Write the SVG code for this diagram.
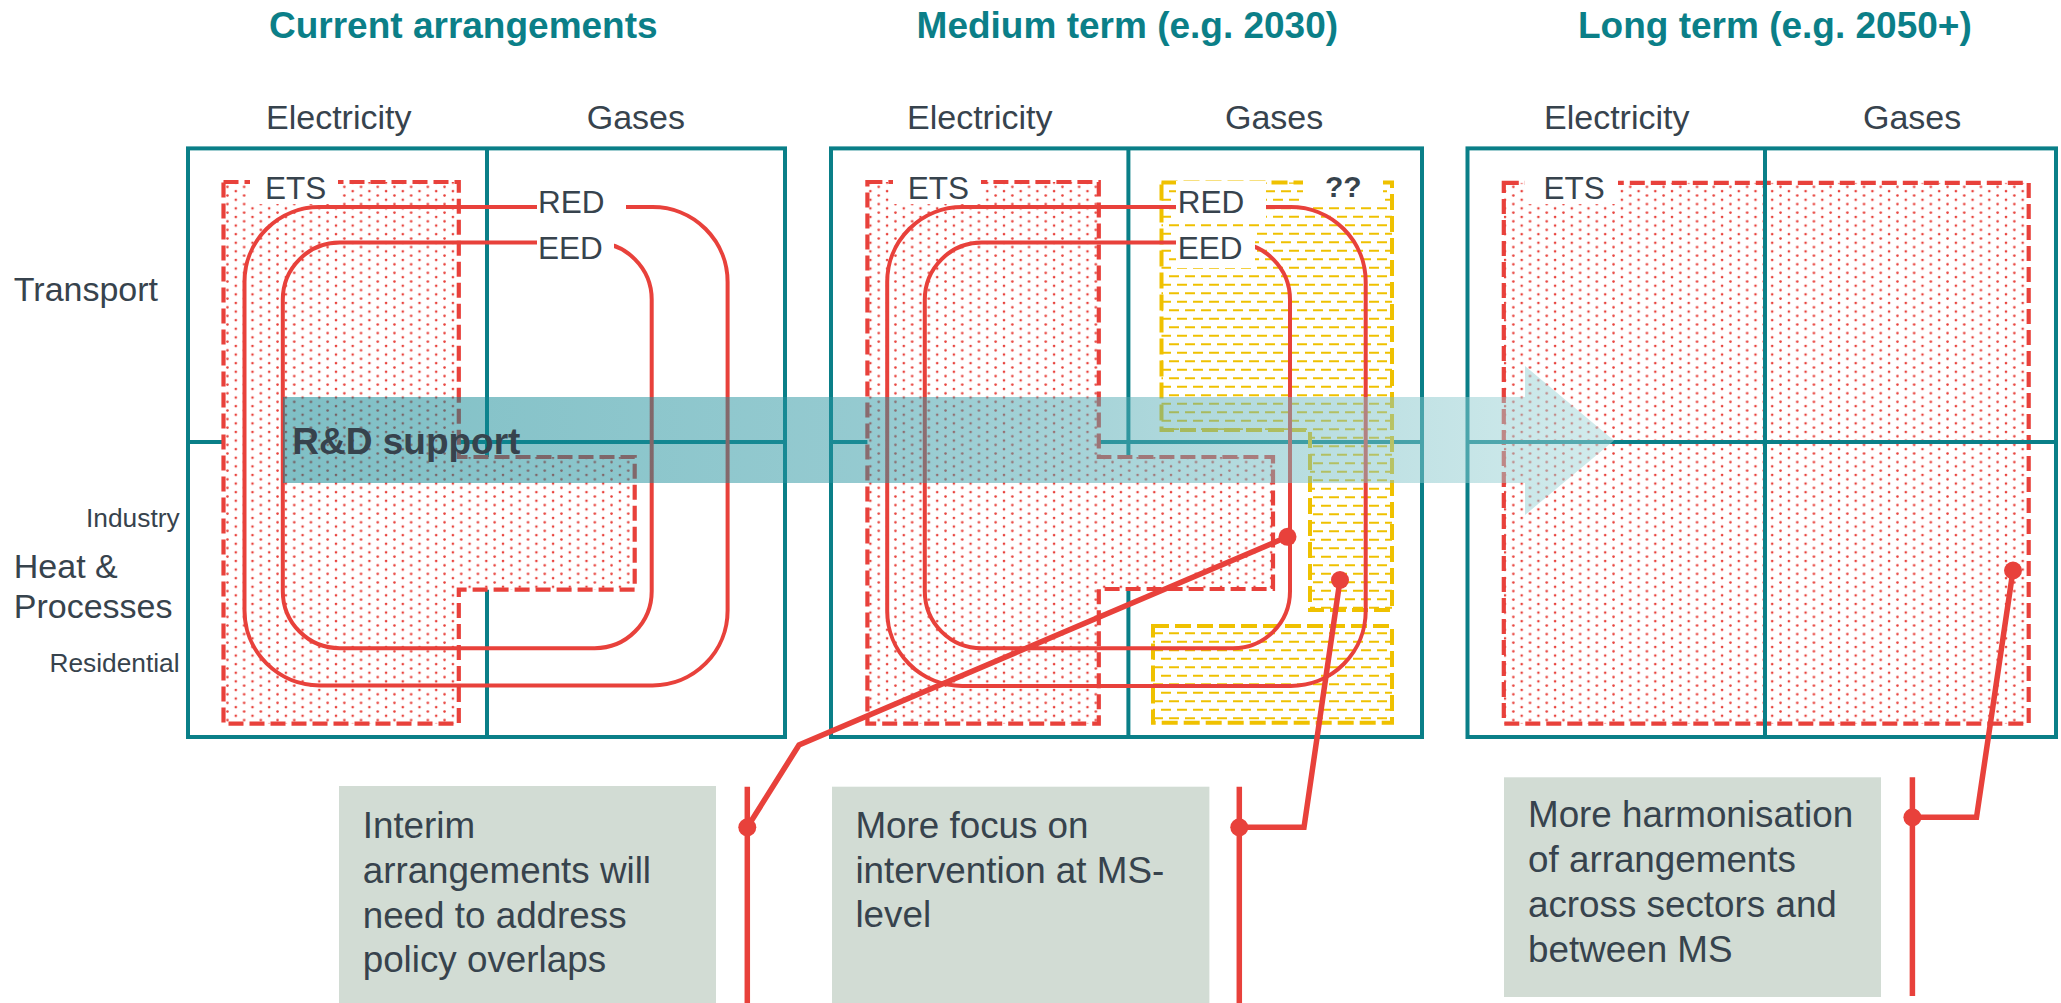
<svg xmlns="http://www.w3.org/2000/svg" width="2061" height="1003" viewBox="0 0 2061 1003">
  <defs>
    <style>
      .txt { font-family: "Liberation Sans", Arial, sans-serif; fill: #37434D; }
      .title { font-family: "Liberation Sans", Arial, sans-serif; font-weight: bold; font-size: 37px; fill: #0B7F88; }
      .hdr { font-size: 34px; }
      .small { font-size: 26.3px; }
      .tag { font-size: 31.5px; }
      .callt { font-size: 36.8px; }
      .frame { fill: none; stroke: #0A7F88; stroke-width: 4; stroke-linejoin: miter; }
      .div { fill: none; stroke: #0A7F88; stroke-width: 4; }
      .ets { fill: url(#dots); stroke: #E8413B; stroke-width: 4.2; stroke-dasharray: 15 6; }
      .yel { fill: url(#hatch); stroke: #EFC100; stroke-width: 4; stroke-dasharray: 16 6; }
      .loop { fill: none; stroke: #E8413B; stroke-width: 4; }
      .wbox { fill: #FFFFFF; }
      .note { fill: #D2DCD4; }
      .lead { fill: none; stroke: #E8413B; stroke-width: 5.5; stroke-linejoin: miter; }
      .pin { fill: #E8413B; }
    </style>
    <!-- dotted fill of the ETS coverage -->
    <pattern id="dots" width="16.7" height="8.6" patternUnits="userSpaceOnUse">
      <rect width="16.7" height="8.6" fill="#FFFFFF"/>
      <circle cx="2" cy="2" r="1.3" fill="#E8413B"/>
      <circle cx="10.35" cy="6.3" r="1.3" fill="#E8413B"/>
    </pattern>
    <!-- dashed-horizontal fill of the national (??) coverage -->
    <pattern id="hatch" width="16" height="17" patternUnits="userSpaceOnUse">
      <g stroke="#EFC100" stroke-width="2">
        <line x1="1" y1="4.25" x2="11" y2="4.25"/>
        <line x1="9" y1="12.75" x2="16" y2="12.75"/>
        <line x1="0" y1="12.75" x2="3" y2="12.75"/>
      </g>
    </pattern>
    <linearGradient id="band" gradientUnits="userSpaceOnUse" x1="283" y1="0" x2="1614" y2="0">
      <stop offset="0" stop-color="#00808C" stop-opacity="0.5"/>
      <stop offset="0.45" stop-color="#2C96A2" stop-opacity="0.5"/>
      <stop offset="1" stop-color="#A6D8DA" stop-opacity="0.5"/>
    </linearGradient>
  </defs>

  <rect width="2061" height="1003" fill="#FFFFFF"/>

  <!-- column titles and axis labels -->
  <g id="headings">
    <text class="title" x="269" y="38">Current arrangements</text>
    <text class="title" x="916.6" y="38">Medium term (e.g. 2030)</text>
    <text class="title" x="1578" y="38">Long term (e.g. 2050+)</text>
    <text class="txt hdr" x="266" y="129">Electricity</text>
    <text class="txt hdr" x="586.7" y="129">Gases</text>
    <text class="txt hdr" x="907" y="129">Electricity</text>
    <text class="txt hdr" x="1225" y="129">Gases</text>
    <text class="txt hdr" x="1544" y="129">Electricity</text>
    <text class="txt hdr" x="1863" y="129">Gases</text>
  </g>
  <g id="row-labels">
    <text class="txt hdr" x="13.8" y="301">Transport</text>
    <text class="txt hdr" x="13.8" y="577.6">Heat &amp;</text>
    <text class="txt hdr" x="13.8" y="618.4">Processes</text>
    <text class="txt small" x="179.6" y="527" text-anchor="end">Industry</text>
    <text class="txt small" x="179.6" y="672.4" text-anchor="end">Residential</text>
  </g>

  <!-- current arrangements -->
  <g id="panel-current">
    <rect class="frame" x="188" y="148.4" width="597" height="588.6"/>
    <line class="div" x1="487" y1="148.4" x2="487" y2="737"/>
    <line class="div" x1="188" y1="442" x2="785" y2="442"/>
    <path class="ets" d="M223.5,182 H458.8 V457 H634.7 V589.7 H458.8 V723.6 H223.5 Z"/>
    <rect class="loop" x="244.5" y="207" width="483.1" height="478.4" rx="75"/>
    <rect class="loop" x="282.8" y="242.6" width="368.9" height="405.6" rx="57"/>
    <rect class="wbox" x="250" y="170" width="88" height="34"/>
    <rect class="wbox" x="537" y="183" width="89" height="36"/>
    <rect class="wbox" x="537" y="226" width="77" height="40"/>
    <text class="txt tag" x="265" y="199">ETS</text>
    <text class="txt tag" x="538" y="213">RED</text>
    <text class="txt tag" x="538" y="258.5">EED</text>
  </g>

  <!-- medium term -->
  <g id="panel-medium">
    <rect class="frame" x="831" y="148.4" width="591" height="588.6"/>
    <line class="div" x1="1128.4" y1="148.4" x2="1128.4" y2="737"/>
    <line class="div" x1="831" y1="442" x2="1422" y2="442"/>
    <path class="ets" d="M867.4,182 H1098.8 V457 H1273 V589 H1098.8 V723.6 H867.4 Z"/>
    <path class="yel" d="M1161.5,182.5 H1392 V610 H1310 V430 H1161.5 Z"/>
    <rect class="yel" x="1153" y="626" width="239" height="96.7"/>
    <rect class="loop" x="887.2" y="207" width="478.5" height="479" rx="75"/>
    <rect class="loop" x="924.8" y="242.6" width="365.2" height="405.7" rx="57"/>
    <rect class="wbox" x="893" y="170" width="88" height="34"/>
    <rect class="wbox" x="1176" y="181" width="90" height="38"/>
    <rect class="wbox" x="1176" y="228" width="79" height="40"/>
    <rect class="wbox" x="1303" y="174" width="80" height="32"/>
    <text class="txt tag" x="907.8" y="199">ETS</text>
    <text class="txt tag" x="1177.7" y="213">RED</text>
    <text class="txt tag" x="1177.7" y="258.5">EED</text>
    <text class="txt" x="1325" y="196.7" font-size="30" font-weight="bold">??</text>
  </g>

  <!-- long term -->
  <g id="panel-long">
    <rect class="ets" x="1503.8" y="182.9" width="524.9" height="540.7"/>
    <rect class="wbox" x="1525" y="170" width="93" height="34"/>
    <text class="txt tag" x="1543.5" y="199">ETS</text>
    <line class="div" x1="1765" y1="148.4" x2="1765" y2="737"/>
    <line class="div" x1="1467.5" y1="442" x2="2056" y2="442"/>
    <rect class="frame" x="1467.5" y="148.4" width="588.5" height="588.6"/>
  </g>

  <!-- R&D support arrow across all three horizons -->
  <g id="rd-support">
    <path d="M283,397 H1525 V366 L1614,440.5 L1525,515 V483 H283 Z" fill="url(#band)"/>
    <text class="txt" x="292.3" y="454" font-size="37" font-weight="bold">R&amp;D support</text>
  </g>

  <!-- comment boxes -->
  <g id="note-interim">
    <rect class="note" x="339" y="786" width="377" height="217"/>
    <text class="txt callt" x="362.7" y="838.3">Interim</text>
    <text class="txt callt" x="362.7" y="883.3">arrangements will</text>
    <text class="txt callt" x="362.7" y="928.3">need to address</text>
    <text class="txt callt" x="362.7" y="972.3">policy overlaps</text>
  </g>
  <g id="note-ms">
    <rect class="note" x="832" y="786.7" width="377.4" height="216.3"/>
    <text class="txt callt" x="855.4" y="837.6">More focus on</text>
    <text class="txt callt" x="855.4" y="882.6">intervention at MS-</text>
    <text class="txt callt" x="855.4" y="927.3">level</text>
  </g>
  <g id="note-harmonise">
    <rect class="note" x="1504" y="777.3" width="377" height="219.7"/>
    <text class="txt callt" x="1528" y="827">More harmonisation</text>
    <text class="txt callt" x="1528" y="871.7">of arrangements</text>
    <text class="txt callt" x="1528" y="916.7">across sectors and</text>
    <text class="txt callt" x="1528" y="961.7">between MS</text>
  </g>

  <!-- leader lines from the notes into the grids -->
  <g id="connectors">
    <line class="lead" x1="747.3" y1="786.7" x2="747.3" y2="1003"/>
    <polyline class="lead" points="747.3,827.3 799,745 1287.5,536.8"/>
    <circle class="pin" cx="747.3" cy="827.3" r="9"/>
    <circle class="pin" cx="1287.5" cy="536.8" r="9"/>

    <line class="lead" x1="1239.3" y1="786.7" x2="1239.3" y2="1003"/>
    <polyline class="lead" points="1239.3,827.3 1304,827.3 1340,580"/>
    <circle class="pin" cx="1239.3" cy="827.3" r="9"/>
    <circle class="pin" cx="1340" cy="580" r="9"/>

    <line class="lead" x1="1912.4" y1="777.3" x2="1912.4" y2="996"/>
    <polyline class="lead" points="1912.4,817.3 1976.5,817.3 2013,570.5"/>
    <circle class="pin" cx="1912.4" cy="817.3" r="9"/>
    <circle class="pin" cx="2013" cy="570.5" r="9"/>
  </g>
</svg>
